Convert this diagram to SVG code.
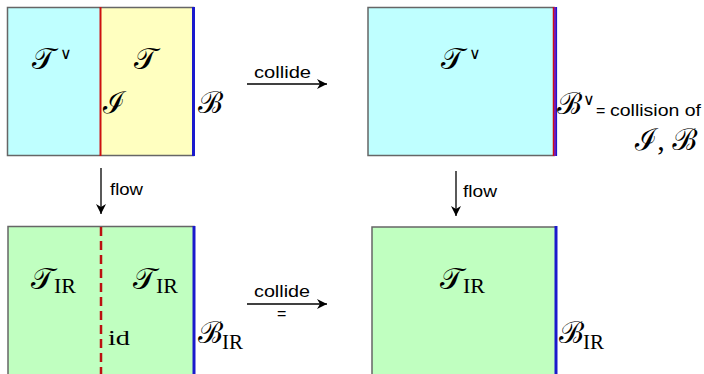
<svg xmlns="http://www.w3.org/2000/svg" width="704" height="374" viewBox="0 0 704 374">
<defs>
<marker id="ah" viewBox="0 0 10 10" refX="10" refY="5" markerWidth="10" markerHeight="10" markerUnits="userSpaceOnUse" orient="auto">
<path d="M0,0 L10,5 L0,10 L3,5 Z" fill="#000"/>
</marker>
<style>
.frame{stroke:#666;stroke-width:1.5}
.cyan{fill:#bfffff}
.yellow{fill:#ffffc0}
.green{fill:#c0ffc0}
.red{stroke:#cc1111;stroke-width:2}
.blue{stroke:#1a1acc;stroke-width:3}
.sans{font-family:"Liberation Sans",Arial,sans-serif;font-size:16px;fill:#000}
.cal{font-family:"DejaVu Serif","Noto Sans",serif;font-style:normal;font-size:30px;fill:#000}
.rm{font-family:"Liberation Serif","Times New Roman",serif;font-size:20px;fill:#000}
.sup{font-family:"DejaVu Sans",sans-serif;font-size:16px;fill:#000}
.conn{stroke:#000;stroke-width:1.3;fill:none}
</style>
</defs>
<g id="n_top_left">
<rect x="7.5" y="7.5" width="93" height="148" class="cyan"/>
<rect x="100.5" y="7.5" width="93" height="148" class="yellow"/>
<rect x="7.5" y="7.5" width="186" height="148" fill="none" class="frame"/>
<line x1="100.5" y1="7" x2="100.5" y2="156" class="red"/>
<line x1="193.5" y1="7" x2="193.5" y2="156" class="blue"/>
<text x="32" y="69" class="cal">𝒯</text><text x="60" y="59" class="sup">∨</text>
<text x="134" y="69" class="cal">𝒯</text>
<text x="103" y="113" class="cal" font-size="26">ℐ</text>
<text x="198" y="113" class="cal" font-size="26">ℬ</text>
</g>
<g id="n_top_right">
<rect x="368" y="7.5" width="186" height="148" class="cyan frame"/>
<line x1="553.5" y1="7" x2="553.5" y2="156" stroke="#cc1111" stroke-width="1.5"/>
<line x1="555" y1="7" x2="555" y2="156" stroke="#7a1ab0" stroke-width="2"/>
<line x1="556.5" y1="7" x2="556.5" y2="156" stroke="#1a1acc" stroke-width="1.2"/>
<text x="441" y="69" class="cal">𝒯</text><text x="469" y="59" class="sup">∨</text>
<text x="557" y="114" class="cal" font-size="25">ℬ</text><text x="583" y="105" class="sup">∨</text>
<text x="596" y="116" class="sans">=</text>
<text x="610" y="116" class="sans" textLength="91" lengthAdjust="spacingAndGlyphs">collision of</text>
<text x="635" y="150" class="cal" font-size="26">ℐ<tspan font-family="Liberation Serif">, </tspan>ℬ</text>
</g>
<g id="n_bottom_left">
<rect x="8" y="226.5" width="186" height="160" class="green frame"/>
<line x1="101" y1="227" x2="101" y2="374" stroke="#bb1111" stroke-width="2.5" stroke-dasharray="9,5"/>
<line x1="194" y1="226" x2="194" y2="374" class="blue"/>
<text x="31" y="289" class="cal">𝒯</text><text x="54" y="293" class="rm" textLength="22" lengthAdjust="spacingAndGlyphs">IR</text>
<text x="133" y="289" class="cal">𝒯</text><text x="156" y="293" class="rm" textLength="22" lengthAdjust="spacingAndGlyphs">IR</text>
<text x="108" y="345" class="rm" font-size="24" textLength="22" lengthAdjust="spacingAndGlyphs">id</text>
<text x="198" y="343" class="cal" font-size="26">ℬ</text><text x="222" y="349" class="rm" textLength="21" lengthAdjust="spacingAndGlyphs">IR</text>
</g>
<g id="n_bottom_right">
<rect x="372" y="227" width="184" height="160" class="green frame"/>
<line x1="556" y1="226" x2="556" y2="374" class="blue"/>
<text x="440" y="289" class="cal">𝒯</text><text x="463" y="293" class="rm" textLength="22" lengthAdjust="spacingAndGlyphs">IR</text>
<text x="559" y="343" class="cal" font-size="26">ℬ</text><text x="583" y="349" class="rm" textLength="21" lengthAdjust="spacingAndGlyphs">IR</text>
</g>
<g id="connectors">
<line x1="247" y1="84" x2="327" y2="84" class="conn" marker-end="url(#ah)"/>
<text x="254" y="78" class="sans" textLength="57" lengthAdjust="spacingAndGlyphs">collide</text>
<line x1="247" y1="304" x2="327" y2="304" class="conn" marker-end="url(#ah)"/>
<text x="254" y="297" class="sans" textLength="56" lengthAdjust="spacingAndGlyphs">collide</text>
<text x="277" y="319" class="sans">=</text>
<line x1="101" y1="168" x2="101" y2="214" class="conn" marker-end="url(#ah)"/>
<text x="110" y="195" class="sans" textLength="33" lengthAdjust="spacingAndGlyphs">flow</text>
<line x1="456" y1="171" x2="456" y2="216" class="conn" marker-end="url(#ah)"/>
<text x="463" y="197" class="sans" textLength="34" lengthAdjust="spacingAndGlyphs">flow</text>
</g>
</svg>
